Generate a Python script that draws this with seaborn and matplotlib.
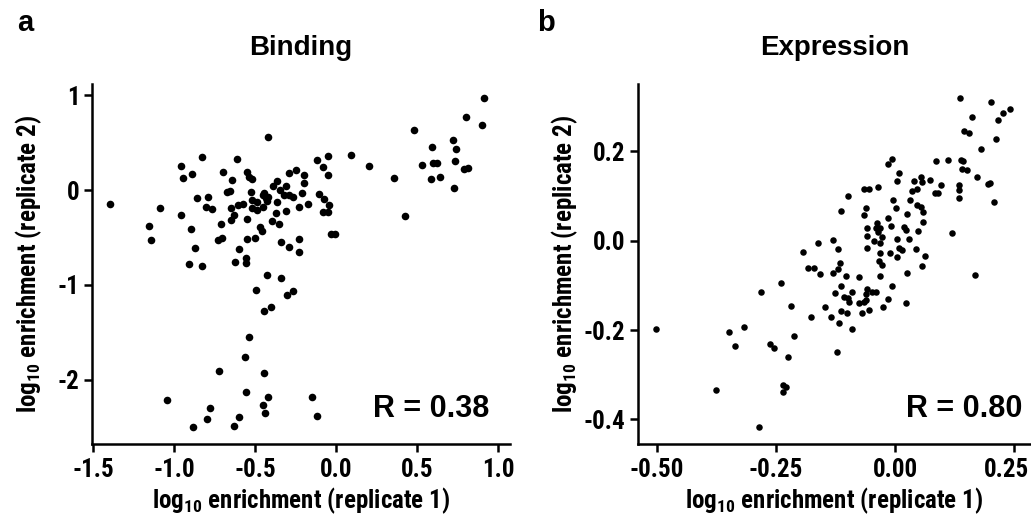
import matplotlib
matplotlib.use('Agg')
import matplotlib.pyplot as plt
import matplotlib.transforms as mtrans
from matplotlib import font_manager
from matplotlib.ticker import FormatStrFormatter
import pandas as pd
import seaborn as sns

# Binding: log10 enrichment, replicate 1 vs replicate 2
bind_rep1 = [-0.418, -0.829, -0.611, -0.959, -0.944, -0.887, -0.699, -0.640, -0.551, -0.535,
             -0.519, -0.675, -0.654, -0.858, -0.788, -0.802, -0.765, -1.393, -1.085, -0.957,
             -1.152, -1.142, -0.897, -0.868, -0.907, -0.829, -0.646, -0.630, -0.646, -0.710,
             -0.726, -0.704, -0.599, -0.625, -0.556, -0.556, -0.551, -0.551, -0.500, -0.603,
             -0.572, -0.523, -0.520, -0.490, -0.520, -0.490, -0.449, -0.449, -0.434, -0.428,
             -0.444, -0.418, -0.391, -0.362, -0.346, -0.319, -0.309, -0.288, -0.247, -0.288,
             -0.263, -0.212, -0.196, -0.196, -0.366, -0.370, -0.397, -0.350, -0.309, -0.226,
             -0.171, -0.340, -0.288, -0.230, -0.230, -0.428, -0.341, -0.469, -0.459, 0.916,
             0.800, 0.899, 0.483, 0.591, 0.724, 0.743, 0.735, 0.533, 0.597, 0.621,
             0.586, 0.640, 0.730, 0.790, 0.813, 0.356, 0.426, 0.206, 0.093, -0.048,
             -0.119, -0.078, -0.051, -0.107, -0.072, -0.045, -0.082, -0.048, -0.033, -0.004,
             -0.496, -0.302, -0.265, -0.443, -0.403, -0.537, -0.564, -0.722, -0.446, -0.557,
             -0.420, -0.449, -0.436, -0.148, -1.043, -0.780, -0.798, -0.597, -0.631, -0.881,
             -0.115]
bind_rep2 = [0.555, 0.351, 0.330, 0.253, 0.126, 0.165, 0.193, 0.105, 0.189, 0.140,
             0.113, -0.018, -0.007, -0.088, -0.070, -0.175, -0.196, -0.144, -0.193, -0.267,
             -0.379, -0.526, -0.407, -0.607, -0.779, -0.803, -0.193, -0.260, -0.319, -0.361,
             -0.526, -0.509, -0.624, -0.761, -0.712, -0.768, -0.309, -0.519, -0.509, -0.161,
             -0.144, -0.021, -0.105, -0.126, -0.193, -0.210, -0.175, -0.053, -0.088, -0.112,
             -0.035, -0.070, 0.042, 0.098, 0.000, -0.053, 0.042, 0.175, 0.211, -0.053,
             -0.070, -0.028, 0.070, 0.158, -0.123, -0.246, -0.323, -0.358, -0.221, -0.175,
             -0.147, -0.551, -0.597, -0.512, -0.653, -0.895, -0.923, -0.386, -0.428, 0.972,
             0.772, 0.687, 0.635, 0.449, 0.523, 0.435, 0.305, 0.260, 0.281, 0.281,
             0.113, 0.137, 0.024, 0.221, 0.228, 0.126, -0.274, 0.249, 0.368, 0.355,
             0.319, 0.239, 0.158, -0.039, -0.098, -0.161, -0.232, -0.232, -0.463, -0.460,
             -1.056, -1.105, -1.060, -1.270, -1.228, -1.544, -1.754, -1.902, -1.923, -2.130,
             -2.175, -2.263, -2.344, -2.175, -2.207, -2.295, -2.407, -2.386, -2.481, -2.495,
             -2.379]

# Expression: log10 enrichment, replicate 1 vs replicate 2
expr_rep1 = [0.136, 0.201, 0.226, 0.241, 0.161, 0.215, 0.145, 0.155, 0.211, 0.180,
             0.086, 0.110, 0.139, 0.143, 0.140, 0.150, 0.172, 0.194, 0.198, 0.208,
             0.135, 0.134, 0.133, 0.119, 0.167, 0.096, 0.084, 0.090, 0.073, 0.054,
             0.056, 0.040, 0.045, 0.035, 0.031, 0.045, 0.054, 0.059, 0.059, 0.026,
             0.048, 0.029, 0.044, 0.062, 0.057, 0.026, 0.009, 0.005, -0.006, -0.014,
             -0.004, 0.001, -0.014, -0.009, 0.019, 0.022, 0.004, 0.009, 0.015, 0.004,
             -0.010, -0.066, -0.055, -0.036, -0.099, -0.114, -0.060, -0.066, -0.037, -0.031,
             -0.040, -0.027, -0.031, -0.044, -0.059, -0.059, -0.036, -0.059, -0.031, -0.034,
             -0.027, -0.031, -0.075, -0.103, -0.130, -0.115, -0.119, -0.131, -0.119, -0.161,
             -0.192, -0.183, -0.171, -0.157, -0.240, -0.282, -0.114, -0.126, -0.108, -0.090,
             -0.098, -0.097, -0.075, -0.066, -0.061, -0.058, -0.049, -0.040, -0.061, -0.006,
             -0.014, -0.025, 0.023, -0.055, -0.070, -0.101, -0.114, -0.147, -0.176, -0.134,
             -0.118, -0.090, -0.122, -0.219, -0.211, -0.262, -0.253, -0.224, -0.317, -0.349,
             -0.336, -0.502, -0.376, -0.236, -0.229, -0.234, -0.285]
expr_rep2 = [0.320, 0.310, 0.287, 0.295, 0.278, 0.270, 0.246, 0.242, 0.228, 0.205,
             0.179, 0.181, 0.180, 0.179, 0.161, 0.158, 0.142, 0.127, 0.129, 0.086,
             0.124, 0.113, 0.096, 0.017, -0.077, 0.125, 0.107, 0.107, 0.135, 0.143,
             0.132, 0.134, 0.117, 0.111, 0.091, 0.079, 0.076, 0.064, 0.043, 0.060,
             0.022, 0.004, -0.019, -0.034, -0.057, -0.072, 0.151, 0.134, 0.184, 0.171,
             0.091, 0.074, 0.051, 0.034, 0.031, 0.024, 0.004, -0.016, -0.021, -0.036,
             -0.028, 0.117, 0.117, 0.120, 0.100, 0.067, 0.073, 0.058, 0.040, 0.029,
             0.028, 0.009, -0.006, 0.000, 0.028, 0.011, 0.020, -0.016, -0.027, -0.045,
             -0.054, -0.078, -0.082, -0.078, -0.072, -0.049, -0.063, 0.002, -0.018, -0.006,
             -0.025, -0.060, -0.060, -0.075, -0.094, -0.114, -0.101, -0.116, -0.125, -0.114,
             -0.129, -0.137, -0.140, -0.137, -0.133, -0.107, -0.114, -0.114, -0.119, -0.101,
             -0.130, -0.148, -0.139, -0.155, -0.161, -0.161, -0.157, -0.149, -0.170, -0.171,
             -0.183, -0.198, -0.249, -0.146, -0.213, -0.232, -0.241, -0.260, -0.193, -0.204,
             -0.236, -0.198, -0.334, -0.323, -0.327, -0.338, -0.418]

panel_titles = ['Binding', 'Expression']
panel_letters = ['a', 'b']
r_labels = ['R = 0.38', 'R = 0.80']
xlab = r'log$_{\mathbf{10}}$ enrichment (replicate 1)'
ylab = r'log$_{\mathbf{10}}$ enrichment (replicate 2)'

sns.set_style('ticks')

# the tick and axis labels in the original use a condensed bold face
installed = {f.name for f in font_manager.fontManager.ttflist}
narrow = 'Liberation Sans'
for cand in ['Liberation Sans Narrow', 'Roboto Condensed', 'DejaVu Sans Condensed',
             'Open Sans Condensed', 'Noto Sans Condensed']:
    if cand in installed:
        narrow = cand
        break
tick_size = 18 if narrow != 'Liberation Sans' else 15
label_size = 18 if narrow != 'Liberation Sans' else 16

plt.rcParams['font.family'] = ['Liberation Sans', 'DejaVu Sans']
plt.rcParams['font.weight'] = 'bold'
plt.rcParams['axes.unicode_minus'] = False
plt.rcParams['mathtext.fontset'] = 'custom'
plt.rcParams['mathtext.rm'] = narrow + ':bold'
plt.rcParams['mathtext.bf'] = narrow + ':bold'
for key in ['text.color', 'axes.labelcolor', 'xtick.color', 'ytick.color', 'axes.edgecolor']:
    plt.rcParams[key] = 'black'

bind = pd.DataFrame({'rep1': bind_rep1, 'rep2': bind_rep2})
expr = pd.DataFrame({'rep1': expr_rep1, 'rep2': expr_rep2})

W, H = 1031, 523
fig = plt.figure(figsize=(W / 100, H / 100), dpi=100)
ax_a = fig.add_axes([92 / W, (H - 444) / H, 418 / W, 360 / H])
ax_b = fig.add_axes([638 / W, (H - 444) / H, 393 / W, 360 / H])

sns.scatterplot(data=bind, x='rep1', y='rep2', ax=ax_a, color='black', s=30, linewidth=0)
sns.scatterplot(data=expr, x='rep1', y='rep2', ax=ax_b, color='black', s=22, linewidth=0)

ax_a.set_xlim(-1.506, 1.074)
ax_a.set_ylim(-2.674, 1.116)
ax_a.set_xticks([-1.5, -1.0, -0.5, 0.0, 0.5, 1.0])
ax_a.set_yticks([-2, -1, 0, 1])
ax_a.xaxis.set_major_formatter(FormatStrFormatter('%.1f'))

ax_b.set_xlim(-0.539, 0.285)
ax_b.set_ylim(-0.455, 0.351)
ax_b.set_xticks([-0.5, -0.25, 0.0, 0.25])
ax_b.set_yticks([-0.4, -0.2, 0.0, 0.2])
ax_b.xaxis.set_major_formatter(FormatStrFormatter('%.2f'))
ax_b.yaxis.set_major_formatter(FormatStrFormatter('%.1f'))

label_x = {0: -0.115, 1: -0.148}
for i, ax in enumerate([ax_a, ax_b]):
    sns.despine(ax=ax)
    for side in ['left', 'bottom']:
        ax.spines[side].set_linewidth(1.8)
    ax.tick_params(width=1.8, length=6, pad=4, labelsize=tick_size)
    ax.tick_params(axis='y', pad=3)
    for lbl in ax.get_xticklabels() + ax.get_yticklabels():
        lbl.set_family(narrow)
        lbl.set_fontweight('bold')
    ax.set_xlabel(xlab, fontsize=label_size, fontweight='bold', family=narrow)
    ax.set_ylabel(ylab, fontsize=label_size, fontweight='bold', family=narrow)
    ax.xaxis.set_label_coords(0.5, -0.115)
    ax.yaxis.set_label_coords(label_x[i], 0.5)
    ax.set_title(panel_titles[i], fontsize=20, fontweight='bold', pad=21)
    ax.text(0.95 if i == 0 else 0.977, 0.075, r_labels[i], transform=ax.transAxes,
            ha='right', va='baseline', fontsize=22, fontweight='bold')

# keep the last tick label of panel b inside the picture (right edge ~1029 px)
last = ax_b.get_xticklabels()[-1]
last.set_horizontalalignment('right')
last.set_transform(last.get_transform() + mtrans.ScaledTranslation(15 / 100, 0, fig.dpi_scale_trans))

fig.text(17 / W, 1 - 31 / H, panel_letters[0], fontsize=21, fontweight='bold', va='baseline')
fig.text(537 / W, 1 - 31 / H, panel_letters[1], fontsize=21, fontweight='bold', va='baseline')

fig.savefig('out.png', dpi=100)
